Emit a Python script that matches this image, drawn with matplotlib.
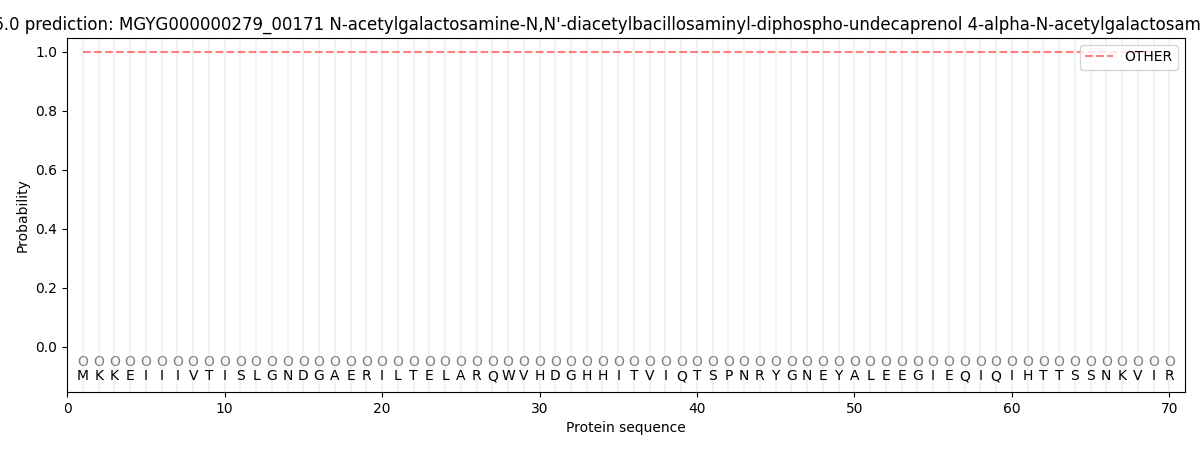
import matplotlib
matplotlib.use("Agg")
import matplotlib.pyplot as plt
import numpy as np

sequence = list("MKKEIIIVTISLGNDGAERILTELARQWVHDGHHITVIQTSPNRYGNEYALEEGIEQIQIHTTSSNKVIR")
positions = list(range(1, len(sequence) + 1))
other_prob = [1.0] * len(sequence)
title = ("SignalP 6.0 prediction: MGYG000000279_00171 N-acetylgalactosamine-N,N'-"
         "diacetylbacillosaminyl-diphospho-undecaprenol 4-alpha-N-acetylgalactosaminyltransferase")

fig = plt.figure(figsize=(12, 4.5), dpi=100)
ax = fig.add_axes([0.056, 0.129, 0.9315, 0.787])

for p in positions:
    ax.axvline(p, color="#f2f2f2", lw=1.5, zorder=0)

ax.plot(positions, other_prob, linestyle="--", color="red", alpha=0.5, lw=1.5, label="OTHER")
for p, aa in zip(positions, sequence):
    ax.text(p, -0.05, "O", ha="center", va="center", fontsize=10, color="gray")
    ax.text(p, -0.1, aa, ha="center", va="center", fontsize=10)

ax.set_xlim(0, 71)
ax.set_ylim(-0.153, 1.047)
ax.set_xlabel("Protein sequence")
ax.set_ylabel("Probability")
ax.set_title(title, fontsize=12)
ax.legend(loc="upper right")
fig.savefig("out.png", dpi=100)
